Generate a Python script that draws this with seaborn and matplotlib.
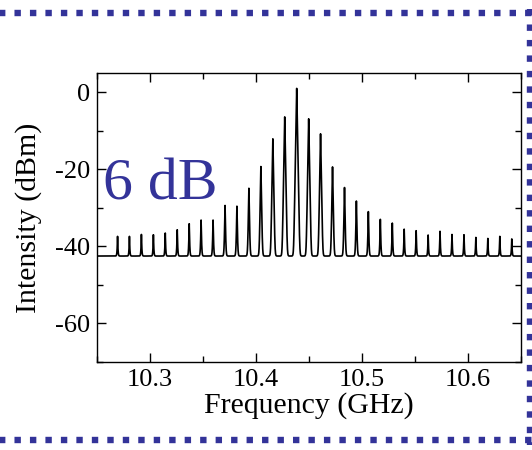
import numpy as np
import pandas as pd
import matplotlib
matplotlib.use("Agg")
import matplotlib.pyplot as plt
from matplotlib.lines import Line2D
import seaborn as sns

# Comb line frequencies (GHz) and their peak powers (dBm)
line_freq_ghz = [
    10.2694, 10.2806, 10.2919, 10.3032, 10.3144, 10.3257, 10.3370, 10.3482,
    10.3595, 10.3708, 10.3820, 10.3933, 10.4046, 10.4159, 10.4271, 10.4384,
    10.4497, 10.4609, 10.4722, 10.4835, 10.4947, 10.5060, 10.5173, 10.5286,
    10.5398, 10.5511, 10.5624, 10.5736, 10.5849, 10.5962, 10.6074, 10.6187,
    10.6300, 10.6413,
]
line_power_dbm = [
    -39.0, -39.0, -38.3, -38.4, -37.8, -36.7, -34.8, -33.7,
    -33.7, -29.6, -29.8, -25.0, -19.3, -12.1, -6.4, 1.0,
    -6.9, -10.8, -19.4, -24.8, -28.4, -31.3, -33.5, -34.6,
    -36.5, -37.0, -38.5, -37.2, -38.3, -38.4, -39.4, -39.8,
    -39.0, -40.0,
]
noise_floor_dbm = -42.5
skirt_slope_db_per_ghz = 15000.0  # analyser response roll-off of each line

x_ticks = [10.3, 10.4, 10.5, 10.6]
y_ticks = [0, -20, -40, -60]
annotation = "6 dB"

# Build the analyser trace: each line rolls off linearly in dB, powers add in mW
freq = np.linspace(10.25, 10.65, 12001)
power_mw = np.full_like(freq, 10 ** (noise_floor_dbm / 10))
for f0, p0 in zip(line_freq_ghz, line_power_dbm):
    level = p0 - skirt_slope_db_per_ghz * np.abs(freq - f0)
    power_mw += 10 ** (level / 10)
spectrum = pd.DataFrame({"Frequency (GHz)": freq,
                         "Intensity (dBm)": 10 * np.log10(power_mw)})

sns.set_theme(style="ticks")
plt.rcParams["font.family"] = ["Liberation Serif", "DejaVu Serif"]

fig = plt.figure(figsize=(5.32, 4.5), dpi=100)
ax = fig.add_axes([97 / 532, 1 - 362 / 450, 424 / 532, 289 / 450])

sns.lineplot(data=spectrum, x="Frequency (GHz)", y="Intensity (dBm)",
             color="black", linewidth=1.2, estimator=None, ax=ax)

ax.set_xlim(10.25, 10.65)
ax.set_ylim(-70, 5)
ax.set_xticks(x_ticks)
ax.set_xticklabels([f"{v:.1f}" for v in x_ticks])
ax.set_yticks(y_ticks)
ax.set_yticklabels([f"{v:d}" for v in y_ticks])
ax.set_xticks([10.25, 10.35, 10.45, 10.55, 10.65], minor=True)
ax.set_yticks([-70, -50, -30, -10], minor=True)

ax.tick_params(which="both", direction="in", top=True, right=True,
               labelsize=19, color="black", labelcolor="black", width=1.0)
ax.tick_params(which="major", length=6.5, pad=5)
ax.tick_params(which="minor", length=4.5)
for side in ax.spines.values():
    side.set_visible(True)
    side.set_color("black")
    side.set_linewidth(1.0)

ax.set_xlabel("Frequency (GHz)", fontsize=21.5, labelpad=1, color="black")
ax.set_ylabel("Intensity (dBm)", fontsize=21.5, labelpad=9, color="black")

fig.text(103 / 532, 1 - 200 / 450, annotation, color="#333399",
         fontsize=43, ha="left", va="baseline")

# Dotted frame of the slide panel
frame_kw = dict(color="#333399", linewidth=4.6, solid_capstyle="butt",
                dash_capstyle="butt", transform=None)
dash = (0, (6.4 / 6.4, 9.1 / 6.4))
W, H = 532, 450
fig.add_artist(Line2D([-2.2, W], [H - 12.5, H - 12.5],
                      linestyle=dash, **frame_kw))
fig.add_artist(Line2D([-2.2, W], [H - 440, H - 440],
                      linestyle=dash, **frame_kw))
fig.add_artist(Line2D([529.5, 529.5], [H - 9.3, H - 445],
                      linestyle=dash, **frame_kw))

fig.savefig("out.png", dpi=100, facecolor="white")
